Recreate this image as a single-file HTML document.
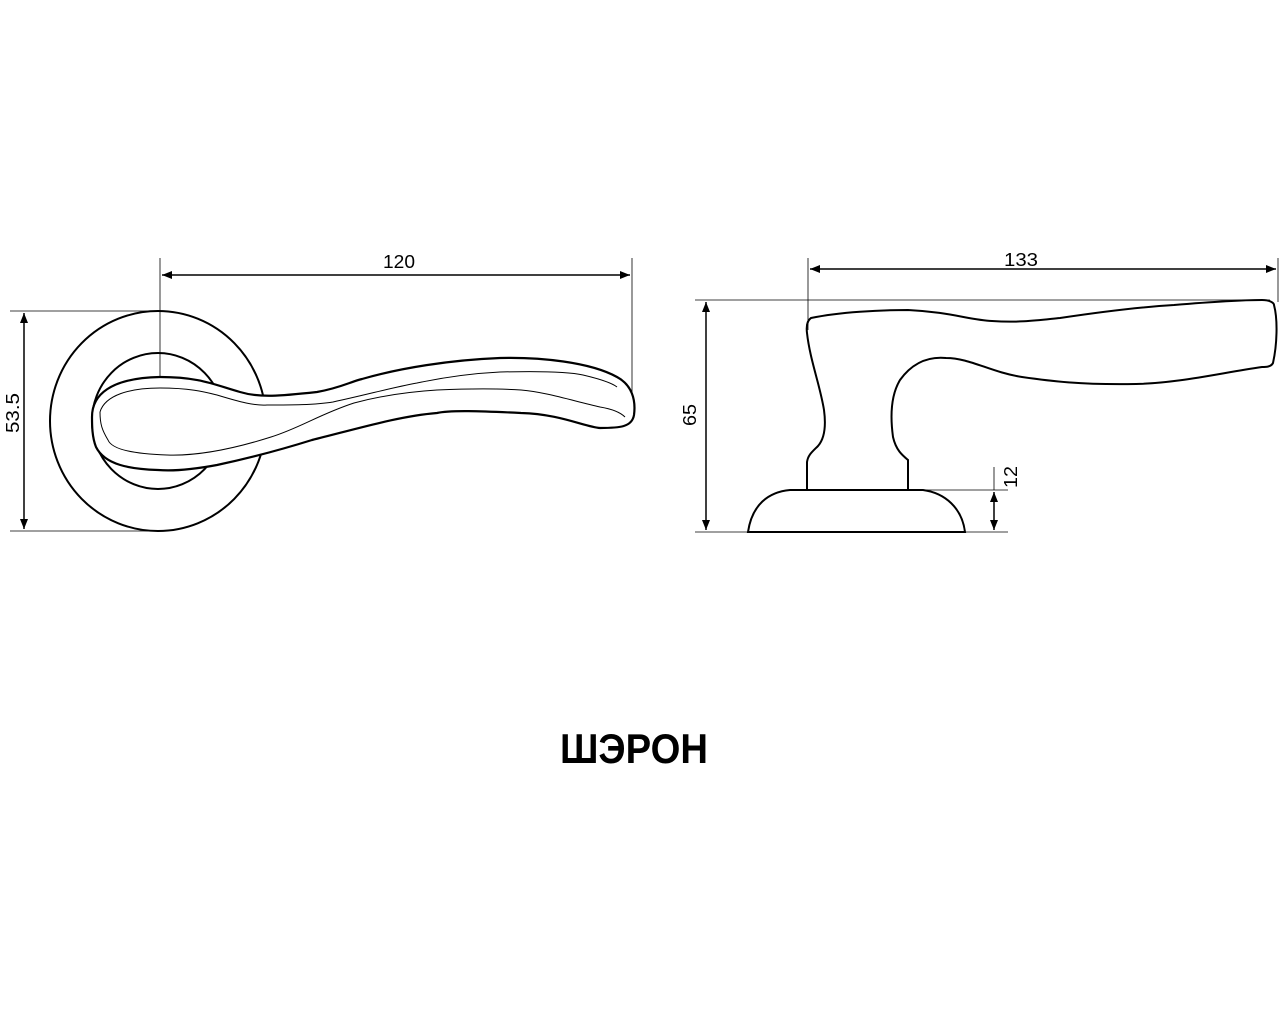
<!DOCTYPE html>
<html><head><meta charset="utf-8"><style>
html,body{margin:0;padding:0;background:#fff;width:1280px;height:1024px;overflow:hidden}
svg{display:block}
text{font-family:"Liberation Sans","DejaVu Sans",sans-serif}
</style></head><body>
<svg width="1280" height="1024" viewBox="0 0 1280 1024" xmlns="http://www.w3.org/2000/svg">
<defs>
<marker id="a" markerWidth="10" markerHeight="8" refX="10" refY="4" orient="auto-start-reverse" markerUnits="userSpaceOnUse">
<path d="M0,0 L10,4 L0,8 Z" fill="#000"/>
</marker>
</defs>
<g fill="none" stroke="#000">
<!-- left view dims -->
<line x1="160" y1="258" x2="160" y2="423" stroke-width="0.8"/>
<line x1="632" y1="258" x2="632" y2="395" stroke-width="0.8"/>
<line x1="162" y1="275" x2="630" y2="275" stroke-width="1.5" marker-start="url(#a)" marker-end="url(#a)"/>
<line x1="10" y1="311" x2="160" y2="311" stroke-width="0.8"/>
<line x1="10" y1="531" x2="160" y2="531" stroke-width="0.8"/>
<line x1="24" y1="313" x2="24" y2="529" stroke-width="1.5" marker-start="url(#a)" marker-end="url(#a)"/>
<!-- rosette -->
<ellipse cx="158" cy="421" rx="108" ry="110" stroke-width="2"/>
<ellipse cx="158" cy="421" rx="66" ry="68" stroke-width="2"/>
<!-- lever top view -->
<path d="M92,417 C92,395 110,378 160,377 C200,377 215,385 240,392 C260,398 280,396 317,392 C340,388 350,382 362,379 C400,368 450,360 500,358 C540,357 590,362 617,377 C632,385 636,400 634,415 C632,427 620,428 600,428 C585,427 560,414 521,413 C480,411 450,410 437,413 C400,416 360,428 312,440 C280,450 250,458 217,465 C190,470 170,471 158,470 C130,469 105,465 96,447 C92,437 92,425 92,417 Z" fill="#fff" stroke-width="2.2"/>
<path d="M100,412 C105,395 130,388 160,388 C190,388 205,392 217,395 C240,402 255,406 267,405 C290,405 315,405 333,402 C370,394 390,388 417,383 C450,376 480,373 500,372 C540,371 570,372 583,375 C600,379 612,383 617,387" stroke-width="1"/>
<path d="M625,417 C620,412 612,409 600,407 C570,400 545,392 521,390 C490,388 460,389 437,390 C405,392 380,396 354,403 C320,414 300,428 271,437 C230,450 195,456 167,455 C135,454 112,450 108,440 C102,430 100,424 100,412" stroke-width="1"/>
<!-- right view dims -->
<line x1="808" y1="258" x2="808" y2="330" stroke-width="0.8"/>
<line x1="1278" y1="258" x2="1278" y2="302" stroke-width="0.8"/>
<line x1="810" y1="269" x2="1276" y2="269" stroke-width="1.5" marker-start="url(#a)" marker-end="url(#a)"/>
<line x1="695" y1="300" x2="1270" y2="300" stroke-width="0.8"/>
<line x1="695" y1="532" x2="1008" y2="532" stroke-width="0.8"/>
<line x1="706" y1="302" x2="706" y2="530" stroke-width="1.5" marker-start="url(#a)" marker-end="url(#a)"/>
<line x1="923" y1="490" x2="1008" y2="490" stroke-width="0.8"/>
<line x1="994" y1="467" x2="994" y2="490" stroke-width="0.8"/>
<line x1="994" y1="492" x2="994" y2="530" stroke-width="1.5" marker-start="url(#a)" marker-end="url(#a)"/>
<!-- base -->
<path d="M748,532 C752,505 768,492 790,490 L923,490 C945,493 962,508 965,532 Z" stroke-width="2"/>
<!-- side lever -->
<path d="M807,490 L807,462 C808,455 812,452 818,446 C825,438 826,425 824,410 C820,385 810,360 807,333 C806,325 808,320 811,318 C840,312 880,310 908,310 C950,312 970,320 992,321 C1020,323 1040,320 1060,318 C1100,312 1140,307 1174,305 C1210,302 1240,300 1262,300 C1270,300 1274,303 1274,305 C1278,320 1277,345 1273,363 C1271,367 1266,367 1262,367 C1220,373 1180,383 1136,384 C1080,385 1050,381 1022,377 C990,372 970,358 946,358 C925,356 910,366 900,380 C891,395 890,415 893,437 C896,450 902,455 908,460 L908,490" stroke-width="2"/>
</g>
<g fill="#000">
<text x="399" y="268" font-size="18" text-anchor="middle" textLength="32" lengthAdjust="spacingAndGlyphs">120</text>
<text x="1021" y="266" font-size="18" text-anchor="middle" textLength="34" lengthAdjust="spacingAndGlyphs">133</text>
<text transform="translate(19,413) rotate(-90)" font-size="18" text-anchor="middle" textLength="40" lengthAdjust="spacingAndGlyphs">53.5</text>
<text transform="translate(696,415) rotate(-90)" font-size="18" text-anchor="middle" textLength="22" lengthAdjust="spacingAndGlyphs">65</text>
<text transform="translate(1017,477) rotate(-90)" font-size="18" text-anchor="middle" textLength="22" lengthAdjust="spacingAndGlyphs">12</text>
<text x="634" y="763" font-size="42" font-weight="bold" text-anchor="middle" textLength="148" lengthAdjust="spacingAndGlyphs">ШЭРОН</text>
</g>
</svg>
</body></html>
